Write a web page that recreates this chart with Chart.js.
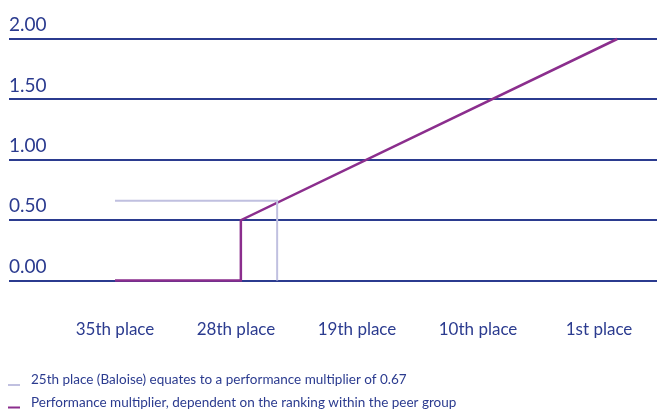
<!DOCTYPE html>
<html>
<head>
<meta charset="utf-8">
<script src="https://cdn.jsdelivr.net/npm/chart.js@4"></script>
<style>
  html, body { margin: 0; padding: 0; background: #fff; }
  #wrap { width: 657px; height: 410px; }
</style>
</head>
<body>
<div id="wrap"><canvas id="multiplierChart"></canvas></div>
<script>
// Data
const rankLabels = ['35th place', '28th place', '19th place', '10th place', '1st place'];
const yTickValues = [0, 0.5, 1, 1.5, 2];

// performance multiplier curve (x = position on the ranking axis)
const curveX = [0, 1.04, 1.04, 4.15];
const curveY = [0, 0, 0.5, 2.0];

// Baloise marker at 25th place
const baloiseX = [0, 1.34, 1.34];
const baloiseY = [0.66, 0.66, 0];

const seriesNames = [
  '25th place (Baloise) equates to a performance multiplier of 0.67',
  'Performance multiplier, dependent on the ranking within the peer group'
];

const navy = '#2b3b8f';
const purple = '#8b2e8d';
const lavender = '#c0c0e0';
const fontFamily = 'Lato, "Noto Sans", sans-serif';

function toPoints(xs, ys) {
  return xs.map((x, i) => ({ x: x, y: ys[i] }));
}

// legend drawn as a left aligned list under the axis labels
const bottomLegend = {
  id: 'bottomLegend',
  afterDraw(chart) {
    const c = chart.ctx;
    c.save();
    c.font = '13.5px ' + fontFamily;
    c.textBaseline = 'middle';
    c.textAlign = 'left';
    chart.data.datasets.forEach((ds, i) => {
      const y = 380 + i * 22.5;
      c.fillStyle = ds.borderColor;
      c.fillRect(8, y + 4, 12, 2);
      c.fillStyle = navy;
      c.fillText(ds.label, 31, y);
    });
    c.restore();
  }
};

const ctx = document.getElementById('multiplierChart').getContext('2d');
const chart = new Chart(ctx, {
  type: 'line',
  data: {
    datasets: [{
      label: seriesNames[0],
      data: toPoints(baloiseX, baloiseY),
      borderColor: lavender,
      backgroundColor: lavender,
      borderWidth: 2,
      pointRadius: 0,
      tension: 0,
      clip: false
    }, {
      label: seriesNames[1],
      data: toPoints(curveX, curveY),
      borderColor: purple,
      backgroundColor: purple,
      borderWidth: 2.5,
      pointRadius: 0,
      tension: 0,
      clip: false
    }]
  },
  options: {
    responsive: true,
    maintainAspectRatio: false,
    animation: false,
    layout: {
      padding: { left: 9, right: 0, top: 39, bottom: 31 }
    },
    plugins: {
      tooltip: { enabled: false },
      legend: { display: false }
    },
    scales: {
      x: {
        type: 'linear',
        min: -0.876,
        max: 4.479,
        afterBuildTicks: axis => {
          axis.ticks = rankLabels.map((_, i) => ({ value: i }));
        },
        afterFit: axis => {
          axis.paddingLeft = 0;
          axis.paddingRight = 0;
        },
        grid: { display: false, drawTicks: false },
        border: { display: false },
        ticks: {
          color: navy,
          padding: 39,
          maxRotation: 0,
          autoSkip: false,
          font: { family: fontFamily, size: 17 },
          callback: value => rankLabels[value]
        }
      },
      y: {
        min: 0,
        max: 2,
        afterBuildTicks: axis => {
          axis.ticks = yTickValues.map(v => ({ value: v }));
        },
        grid: { color: navy, lineWidth: 2, drawTicks: false },
        border: { display: false },
        ticks: {
          mirror: true,
          padding: 0,
          labelOffset: -14,
          color: navy,
          font: { family: fontFamily, size: 19 },
          callback: value => value.toFixed(2)
        }
      }
    }
  },
  plugins: [bottomLegend]
});
</script>
</body>
</html>
